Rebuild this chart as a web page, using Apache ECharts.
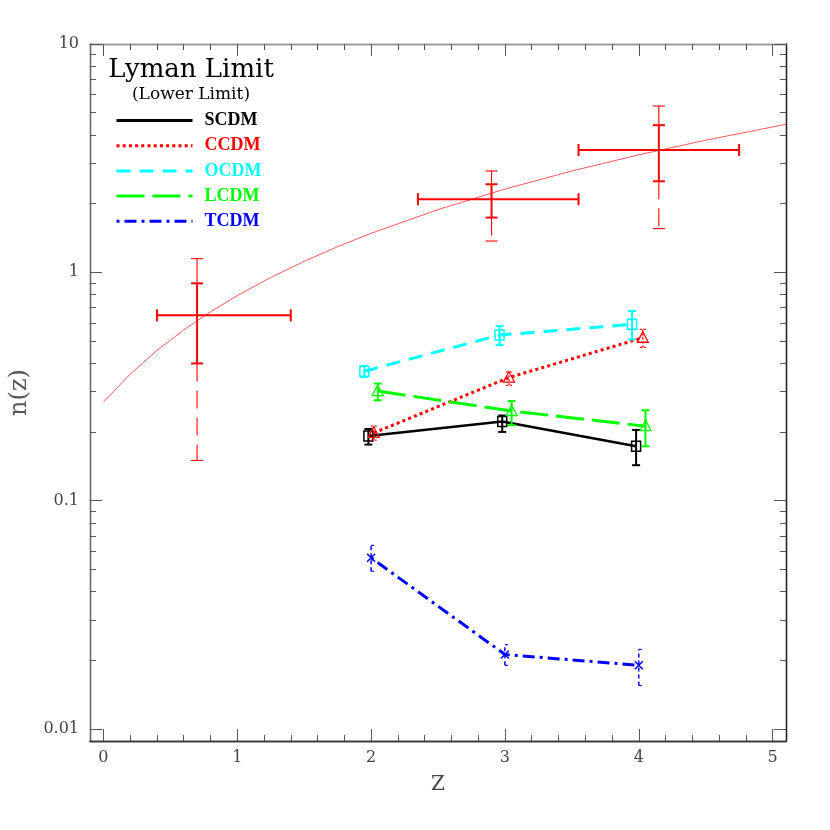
<!DOCTYPE html>
<html><head><meta charset="utf-8">
<script src="https://cdn.jsdelivr.net/npm/echarts@6/dist/echarts.min.js"></script>
<style>html,body{margin:0;padding:0;background:#fff}#c{width:830px;height:830px}</style>
</head><body><div id="c"></div>
<script>
// ---------- data ----------
const zMajorTicks = [0, 1, 2, 3, 4, 5];
const zMinorTicks = [0.2,0.4,0.6,0.8,1.2,1.4,1.6,1.8,2.2,2.4,2.6,2.8,3.2,3.4,3.6,3.8,4.2,4.4,4.6,4.8];
const nMajorTicks = [0.01, 0.1, 1, 10];
const nTickLabels = ['0.01', '0.1', '1', '10'];
const nMinorTicks = [0.02,0.03,0.04,0.05,0.06,0.07,0.08,0.09,0.2,0.3,0.4,0.5,0.6,0.7,0.8,0.9,2,3,4,5,6,7,8,9];

const modelNames = ['SCDM', 'CCDM', 'OCDM', 'LCDM', 'TCDM'];

const scdmZ  = [1.98, 2.98, 3.98];
const scdmN  = [0.192, 0.222, 0.173];
const scdmLo = [0.176, 0.200, 0.143];
const scdmHi = [0.206, 0.236, 0.204];

const ccdmZ  = [2.02, 3.03, 4.03];
const ccdmN  = [0.198, 0.346, 0.517];
const ccdmLo = [0.184, 0.320, 0.469];
const ccdmHi = [0.212, 0.366, 0.562];

const ocdmZ  = [1.95, 2.96, 3.95];
const ocdmN  = [0.369, 0.531, 0.592];
const ocdmLo = [0.348, 0.480, 0.508];
const ocdmHi = [0.389, 0.582, 0.677];

const lcdmZ  = [2.05, 3.05, 4.05];
const lcdmN  = [0.302, 0.247, 0.212];
const lcdmLo = [0.275, 0.214, 0.173];
const lcdmHi = [0.326, 0.273, 0.249];

const tcdmZ  = [2.00, 3.00, 4.00];
const tcdmN  = [0.0562, 0.0212, 0.0190];
const tcdmLo = [0.0491, 0.0190, 0.0155];
const tcdmHi = [0.0637, 0.0234, 0.0223];

// observed Lyman-limit points
const obsZ       = [0.70, 2.90, 4.15];
const obsZLo     = [0.40, 2.35, 3.55];
const obsZHi     = [1.40, 3.55, 4.75];
const obsN       = [0.648, 2.09, 3.435];
const obsInnerLo = [0.399, 1.737, 2.505];
const obsInnerHi = [0.895, 2.43, 4.41];
const obsOuterLo = [0.150, 1.371, 1.554];
const obsOuterHi = [1.148, 2.78, 5.35];

// thin red curve
const fitZ = [0, 0.2, 0.4, 0.6, 0.8, 1.0, 1.25, 1.5, 1.75, 2.0, 2.5, 3.0, 3.5, 4.0, 4.5, 5.1];
const fitN = [0.27, 0.358, 0.455, 0.559, 0.671, 0.791, 0.949, 1.117, 1.295, 1.482, 1.882, 2.315, 2.778, 3.27, 3.79, 4.45];

// ---------- chart ----------
const L = v => Math.log10(v);
const Z_MIN = -0.1, Z_MAX = 5.1;
const Y_MIN = -2.0526, Y_MAX = 1;
const serif = 'DejaVu Serif';

const models = [
  {name:'SCDM', color:'#000000', z:scdmZ, n:scdmN, lo:scdmLo, hi:scdmHi, dash:'solid', width:2.5, marker:'square', err:'solid'},
  {name:'CCDM', color:'#ff0000', z:ccdmZ, n:ccdmN, lo:ccdmLo, hi:ccdmHi, dash:[3,3.2], width:3, marker:'triangle', err:'dash'},
  {name:'OCDM', color:'#00ffff', z:ocdmZ, n:ocdmN, lo:ocdmLo, hi:ocdmHi, dash:[14,9], width:3, marker:'square', err:'solid'},
  {name:'LCDM', color:'#00ff00', z:lcdmZ, n:lcdmN, lo:lcdmLo, hi:lcdmHi, dash:[28,8], width:3, marker:'triangle', err:'solid'},
  {name:'TCDM', color:'#0000ff', z:tcdmZ, n:tcdmN, lo:tcdmLo, hi:tcdmHi, dash:[3,5,12,5], width:3, marker:'cross', err:'bracket'}
];

function markerShape(type, x, y, color) {
  if (type === 'square') {
    return {type:'rect', shape:{x:x-4.5, y:y-5, width:9, height:10}, style:{fill:'none', stroke:color, lineWidth:1.5}};
  }
  if (type === 'triangle') {
    return {type:'polygon', shape:{points:[[x, y-6],[x-5.5, y+4.5],[x+5.5, y+4.5]]}, style:{fill:'none', stroke:color, lineWidth:1.3}};
  }
  return {type:'group', children:[
    {type:'line', shape:{x1:x-4, y1:y-4, x2:x+4, y2:y+4}, style:{stroke:color, lineWidth:1.5}},
    {type:'line', shape:{x1:x-4, y1:y+4, x2:x+4, y2:y-4}, style:{stroke:color, lineWidth:1.5}}
  ]};
}

function modelErrSeries(m) {
  return {
    type:'custom', name:m.name + ' err', xAxisIndex:0, yAxisIndex:0, z:3,
    data: m.z.map((z,i) => [z, L(m.n[i]), L(m.lo[i]), L(m.hi[i])]),
    renderItem: function(params, api) {
      const c = api.coord([api.value(0), api.value(1)]);
      const lo = api.coord([api.value(0), api.value(2)]);
      const hi = api.coord([api.value(0), api.value(3)]);
      const x = c[0];
      const kids = [];
      if (m.err === 'solid') {
        kids.push({type:'line', shape:{x1:x, y1:lo[1], x2:x, y2:hi[1]}, style:{stroke:m.color, lineWidth:2}});
        kids.push({type:'line', shape:{x1:x-4, y1:lo[1], x2:x+4, y2:lo[1]}, style:{stroke:m.color, lineWidth:2}});
        kids.push({type:'line', shape:{x1:x-4, y1:hi[1], x2:x+4, y2:hi[1]}, style:{stroke:m.color, lineWidth:2}});
      } else if (m.err === 'dash') {
        kids.push({type:'line', shape:{x1:x, y1:lo[1], x2:x, y2:hi[1]}, style:{stroke:m.color, lineWidth:1.3, lineDash:[2,2]}});
        kids.push({type:'line', shape:{x1:x-3, y1:lo[1], x2:x+3, y2:lo[1]}, style:{stroke:m.color, lineWidth:1.2, lineDash:[2,2]}});
        kids.push({type:'line', shape:{x1:x-3, y1:hi[1], x2:x+3, y2:hi[1]}, style:{stroke:m.color, lineWidth:1.2, lineDash:[2,2]}});
      } else {
        kids.push({type:'line', shape:{x1:x, y1:lo[1], x2:x, y2:hi[1]}, style:{stroke:m.color, lineWidth:1.5, lineDash:[4,3]}});
        kids.push({type:'line', shape:{x1:x, y1:lo[1], x2:x+3, y2:lo[1]}, style:{stroke:m.color, lineWidth:1.2}});
        kids.push({type:'line', shape:{x1:x, y1:hi[1], x2:x+3, y2:hi[1]}, style:{stroke:m.color, lineWidth:1.2}});
      }
      kids.push(markerShape(m.marker, c[0], c[1], m.color));
      return {type:'group', children:kids};
    }
  };
}

function modelLineSeries(m) {
  return {
    type:'line', name:m.name, xAxisIndex:0, yAxisIndex:0, z:2,
    data: m.z.map((z,i) => [z, L(m.n[i])]),
    symbol:'none', silent:true, animation:false,
    lineStyle:{color:m.color, width:m.width, type:m.dash, cap:'butt'},
    itemStyle:{color:m.color}
  };
}

const obsSeries = {
  type:'custom', name:'obs', xAxisIndex:0, yAxisIndex:0, z:4,
  data: obsZ.map((z,i) => [z, L(obsN[i]), obsZLo[i], obsZHi[i], L(obsInnerLo[i]), L(obsInnerHi[i]), L(obsOuterLo[i]), L(obsOuterHi[i])]),
  renderItem: function(params, api) {
    const red = '#ff0000';
    const c = api.coord([api.value(0), api.value(1)]);
    const xl = api.coord([api.value(2), api.value(1)])[0];
    const xr = api.coord([api.value(3), api.value(1)])[0];
    const il = api.coord([api.value(0), api.value(4)])[1];
    const ih = api.coord([api.value(0), api.value(5)])[1];
    const ol = api.coord([api.value(0), api.value(6)])[1];
    const oh = api.coord([api.value(0), api.value(7)])[1];
    const x = c[0], y = c[1];
    const ln = (x1,y1,x2,y2,w,dash) => ({type:'line', shape:{x1,y1,x2,y2}, style:{stroke:red, lineWidth:w, lineDash:dash||null}});
    return {type:'group', children:[
      ln(xl, y, xr, y, 2), ln(xl, y-6, xl, y+6, 2), ln(xr, y-6, xr, y+6, 2),
      ln(x, il, x, ih, 2), ln(x-6, il, x+6, il, 2), ln(x-6, ih, x+6, ih, 2),
      ln(x, ih, x, oh, 1.1), ln(x-6, oh, x+6, oh, 1.1),
      ln(x, il, x, ol, 1.1, [18,9]), ln(x-6, ol, x+6, ol, 1.1)
    ]};
  }
};

const fitSeries = {
  type:'line', name:'fit', xAxisIndex:0, yAxisIndex:0, z:1,
  data: fitZ.map((z,i) => [z, L(fitN[i])]),
  symbol:'none', silent:true,
  lineStyle:{color:'#ff3a3a', width:1, opacity:0.85}
};

const labelFont = {fontFamily:serif, fontSize:16, color:'#444'};
const yMajLog = nMajorTicks.map(L);
const yMinLog = nMinorTicks.map(L);

function xAxisDef(pos, major, withLabel, lineColor) {
  return {
    type:'value', position:pos, min:Z_MIN, max:Z_MAX,
    splitLine:{show:false},
    axisLine:{show:true, onZero:false, lineStyle:{color:lineColor, width:1.3}},
    axisTick:{show:true, inside:true, length: major ? 12 : 6, customValues: major ? zMajorTicks : zMinorTicks, lineStyle:{color:'#555', width:1}},
    axisLabel:{show:withLabel, customValues:zMajorTicks, margin:9, ...labelFont},
    name: withLabel ? 'Z' : '', nameLocation:'middle', nameGap:34,
    nameTextStyle:{fontFamily:serif, fontSize:20, color:'#444'}
  };
}
function yAxisDef(pos, major, withLabel, lineColor) {
  return {
    type:'value', position:pos, min:Y_MIN, max:Y_MAX,
    splitLine:{show:false},
    axisLine:{show:true, onZero:false, lineStyle:{color:lineColor, width:1.3}},
    axisTick:{show:true, inside:true, length: major ? 12 : 6, customValues: major ? yMajLog : yMinLog, lineStyle:{color:'#555', width:1}},
    axisLabel:{show:withLabel, customValues:yMajLog, margin:11, ...labelFont,
      formatter: v => { const i = yMajLog.findIndex(t => Math.abs(t - v) < 1e-6); return i >= 0 ? nTickLabels[i] : ''; }},
    name: withLabel ? 'n(z)' : '', nameLocation:'middle', nameGap:58, nameRotate:90,
    nameTextStyle:{fontFamily:serif, fontSize:24, color:'#555'}
  };
}

const chart = echarts.init(document.getElementById('c'), null, {renderer:'canvas'});
chart.setOption({
  backgroundColor:'#ffffff',
  animation:false,
  grid:{left:90, right:44, top:44, bottom:89, containLabel:false},
  title:[
    {text:'Lyman Limit', left:191, top:57, textAlign:'center', padding:0,
     textStyle:{fontFamily:serif, fontSize:26, fontWeight:'normal', color:'#000'}},
    {text:'(Lower Limit)', left:191, top:86, textAlign:'center', padding:0,
     textStyle:{fontFamily:serif, fontSize:17, fontWeight:'normal', color:'#000'}}
  ],
  legend:{
    orient:'vertical', left:115, top:111.5, itemWidth:76, itemHeight:17, itemGap:7.2,
    selectedMode:false, padding:0,
    itemStyle:{color:'transparent', borderWidth:0, opacity:0},
    lineStyle:{width:3},
    textStyle:{fontFamily:'Liberation Serif', fontWeight:'bold', fontSize:18, padding:[0,0,0,7]},
    data: models.map(m => ({name:m.name, textStyle:{color:m.color}}))
  },
  xAxis:[
    xAxisDef('bottom', true, true, '#333'),
    xAxisDef('bottom', false, false, '#333'),
    xAxisDef('top', true, false, '#999'),
    xAxisDef('top', false, false, '#999')
  ],
  yAxis:[
    yAxisDef('left', true, true, '#666'),
    yAxisDef('left', false, false, '#666'),
    yAxisDef('right', true, false, '#222'),
    yAxisDef('right', false, false, '#222')
  ],
  series:[
    ...models.map(modelLineSeries),
    fitSeries,
    obsSeries,
    ...models.map(modelErrSeries)
  ]
});
</script>
</body></html>
